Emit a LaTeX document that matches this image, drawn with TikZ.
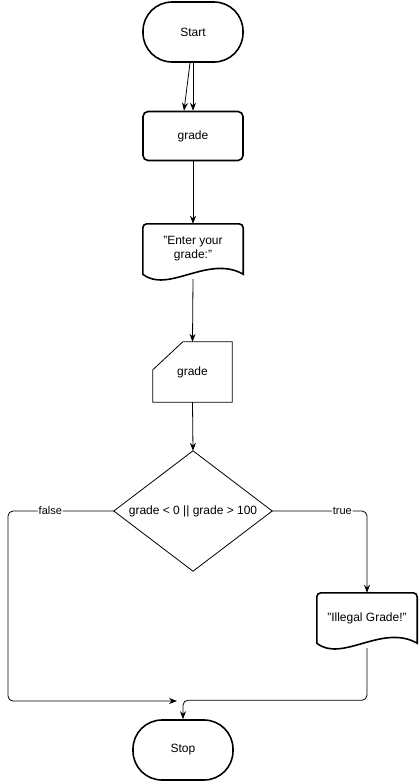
\documentclass[tikz,border=0pt]{standalone}
\usepackage{fontspec}
\setmainfont{Liberation Sans}
\usetikzlibrary{arrows.meta, positioning, calc}
\newcommand{\dq}{\symbol{34}}

\begin{document}
\begin{tikzpicture}[x=1pt, y=-1pt,
    every node/.style={font=\fontsize{12}{14}\selectfont, align=center},
    bold/.style={line width=1.6pt},
    thin/.style={line width=0.8pt},
    term/.style={draw, bold, rounded corners=29pt, minimum width=100pt, minimum height=60pt},
    proc/.style={draw, bold, rounded corners=5pt, minimum width=100pt, minimum height=49pt},
    docbox/.style={minimum width=100pt, minimum height=50pt, inner sep=0pt},
    conn/.style={thin, -{Stealth[length=8pt,width=6pt]}},
    lbl/.style={fill=white, inner sep=1pt, font=\fontsize{11}{13}\selectfont}]
    \useasboundingbox (0,0) rectangle (419,782);

    \node[term] (start) at (193,32) {Start};
    \node[proc] (gradevar) at (193,136) {grade};
    \node[docbox] (prompt) at (193,249) {\dq Enter your\\grade:\dq};
    \draw[bold] (prompt.south west) [rounded corners=4pt] -- (prompt.north west) -- (prompt.north east) [sharp corners] -- (prompt.south east)
        .. controls +(-35,-20) and +(25,20) .. (prompt.south west) -- cycle;
    \node[minimum width=79pt, minimum height=60pt, inner sep=0pt] (readgrade) at (192.5,372) {grade};
    \draw[thin] ([yshift=-28pt]readgrade.north west) -- ([xshift=30pt]readgrade.north west) -- (readgrade.north east)
        -- (readgrade.south east) -- (readgrade.south west) -- cycle;
    \node[minimum width=158pt, minimum height=120pt, inner sep=0pt] (check) at (193,511) {grade < 0 || grade > 100};
    \draw[thin] (check.north) -- (check.east) -- (check.south) -- (check.west) -- cycle;
    \node[docbox] (illegal) at (367,618) {\dq Illegal Grade!\dq};
    \draw[bold] (illegal.south west) [rounded corners=4pt] -- (illegal.north west) -- (illegal.north east) [sharp corners] -- (illegal.south east)
        .. controls +(-35,-20) and +(25,20) .. (illegal.south west) -- cycle;
    \node[term] (stop) at (183,750) {Stop};
    \coordinate (merge) at (177,701);

    \draw[conn] ([xshift=-3pt]start.south) -- ([xshift=-9pt]gradevar.north);
    \draw[conn] (start.south) -- (gradevar.north);
    \draw[conn] (gradevar.south) -- (prompt.north);
    \draw[conn] ([yshift=-5pt]prompt.south) -- (readgrade.north);
    \draw[conn] (readgrade.south) -- (check.north);
    \draw[conn, rounded corners=5pt] (check.west) -- node[lbl, pos=0.6] {false} (8,511) -- (8,701) -- (merge);
    \draw[conn, rounded corners=5pt] (check.east) -- node[lbl, pos=0.74] {true} (367,511) -- (illegal.north);
    \draw[conn, rounded corners=5pt] ([yshift=-5pt]illegal.south) |- ($(stop.north)+(0,-19)$) -- (stop.north);
\end{tikzpicture}
\end{document}
